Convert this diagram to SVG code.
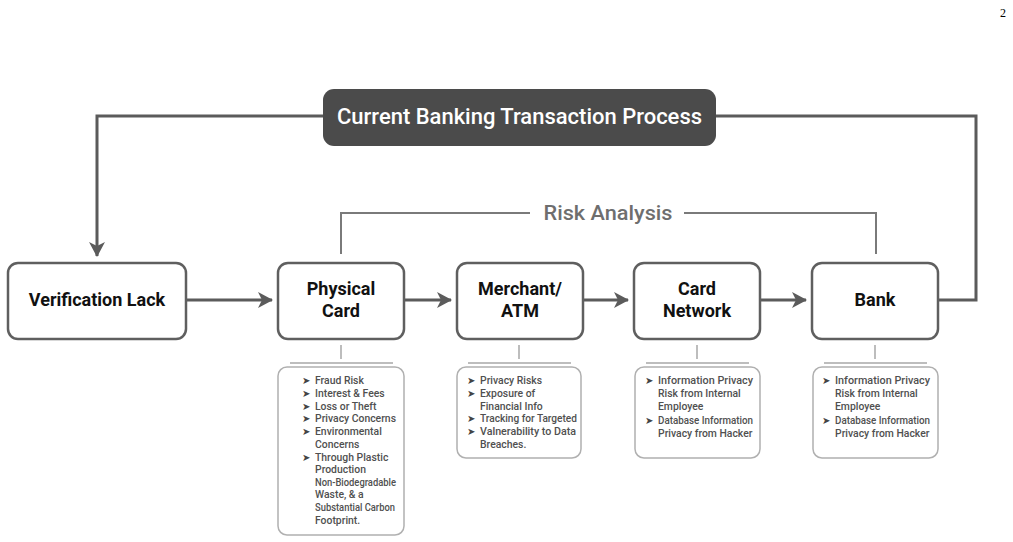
<svg xmlns="http://www.w3.org/2000/svg" width="1013" height="542" viewBox="0 0 1013 542">
<defs>
<marker id="ah2" markerWidth="16" markerHeight="16" refX="14" refY="8" orient="auto" markerUnits="userSpaceOnUse">
<path d="M0,0 L15,8 L0,16 L4,8 Z" fill="#5b5b5b"/>
</marker>
</defs>
<style>
.node{fill:#fff;stroke:#5f5f5f;stroke-width:2.5}
.lbl{font-family:Roboto,"Liberation Sans",sans-serif;font-weight:bold;font-size:18px;fill:#111;text-anchor:middle}
.det{fill:#fff;stroke:#b0b0b0;stroke-width:1.5}
.dt{font-family:Roboto,"Liberation Sans",sans-serif;font-weight:500;font-size:10.4px;fill:#505050}
.bul{font-family:"DejaVu Sans",sans-serif;font-size:10px;fill:#444}
.conn{fill:none;stroke:#5b5b5b;stroke-width:3}
.risk{fill:none;stroke:#7a7a7a;stroke-width:2}
.tick{fill:none;stroke:#a8a8a8;stroke-width:1.5}
</style>
<rect width="1013" height="542" fill="#fff"/>
<text x="1003" y="17" font-family="Liberation Serif,serif" font-size="12" fill="#000" text-anchor="middle">2</text>

<g id="connectors">
<path class="conn" d="M323,116 H97 V256" marker-end="url(#ah2)"/>
<path class="conn" d="M716,116 H976 V300 H938"/>
<path class="conn" d="M186,300 H272" marker-end="url(#ah2)"/>
<path class="conn" d="M404,300 H451" marker-end="url(#ah2)"/>
<path class="conn" d="M583,300 H628" marker-end="url(#ah2)"/>
<path class="conn" d="M760,300 H806" marker-end="url(#ah2)"/>
<path class="risk" d="M341,254 V213 H530 M684,213 H876 V254"/>
<path class="tick" d="M341,345 V359 M290,363 H393"/>
<path class="tick" d="M519,345 V359 M468,363 H571"/>
<path class="tick" d="M697,345 V359 M646,363 H749"/>
<path class="tick" d="M875,345 V359 M824,363 H927"/>
</g>

<g id="title">
<rect x="323" y="89" width="393" height="57" rx="11" fill="#4b4b4b"/>
<text x="519.5" y="124" font-family="Roboto,'Liberation Sans',sans-serif" font-weight="500" font-size="22" fill="#fff" text-anchor="middle" textLength="365" lengthAdjust="spacingAndGlyphs">Current Banking Transaction Process</text>
</g>

<g id="risk-label">
<text x="608" y="220" font-family="Roboto,'Liberation Sans',sans-serif" font-weight="500" font-size="21" fill="#6e6e6e" text-anchor="middle" textLength="129" lengthAdjust="spacingAndGlyphs">Risk Analysis</text>
</g>

<g id="verification">
<rect class="node" x="8" y="263" width="178" height="76" rx="10"/>
<text class="lbl" x="97" y="306">Verification Lack</text>
</g>
<g id="physical-card">
<rect class="node" x="278" y="263" width="126" height="76" rx="10"/>
<text class="lbl" x="341" y="295">Physical</text>
<text class="lbl" x="341" y="317">Card</text>
</g>
<g id="merchant">
<rect class="node" x="457" y="263" width="126" height="76" rx="10"/>
<text class="lbl" x="520" y="295">Merchant/</text>
<text class="lbl" x="520" y="317">ATM</text>
</g>
<g id="card-network">
<rect class="node" x="634" y="263" width="126" height="76" rx="10"/>
<text class="lbl" x="697" y="295">Card</text>
<text class="lbl" x="697" y="317">Network</text>
</g>
<g id="bank">
<rect class="node" x="812" y="263" width="126" height="76" rx="10"/>
<text class="lbl" x="875" y="306">Bank</text>
</g>

<g id="physical-risks">
<rect class="det" x="278" y="367" width="126" height="168" rx="9"/>
<g class="bul"><text x="302" y="384">➤</text><text x="302" y="397">➤</text><text x="302" y="410">➤</text><text x="302" y="422">➤</text><text x="302" y="435">➤</text><text x="302" y="461">➤</text></g>
<g class="dt">
<text x="315" y="384">Fraud Risk</text>
<text x="315" y="397">Interest &amp; Fees</text>
<text x="315" y="410">Loss or Theft</text>
<text x="315" y="422">Privacy Concerns</text>
<text x="315" y="435">Environmental</text>
<text x="315" y="448">Concerns</text>
<text x="315" y="461">Through Plastic</text>
<text x="315" y="473">Production</text>
<text x="315" y="486" textLength="81" lengthAdjust="spacingAndGlyphs">Non-Biodegradable</text>
<text x="315" y="498">Waste, &amp; a</text>
<text x="315" y="511" textLength="80" lengthAdjust="spacingAndGlyphs">Substantial Carbon</text>
<text x="315" y="524">Footprint.</text>
</g>
</g>

<g id="merchant-risks">
<rect class="det" x="457" y="367" width="124" height="91" rx="9"/>
<g class="bul"><text x="467" y="384">➤</text><text x="467" y="397">➤</text><text x="467" y="422">➤</text><text x="467" y="435">➤</text></g>
<g class="dt">
<text x="480" y="384">Privacy Risks</text>
<text x="480" y="397">Exposure of</text>
<text x="480" y="410">Financial Info</text>
<text x="480" y="422" textLength="97" lengthAdjust="spacingAndGlyphs">Tracking for Targeted</text>
<text x="480" y="435" textLength="96" lengthAdjust="spacingAndGlyphs">Valnerability to Data</text>
<text x="480" y="448">Breaches.</text>
</g>
</g>

<g id="network-risks">
<rect class="det" x="635" y="367" width="125" height="91" rx="9"/>
<g class="bul"><text x="645" y="384">➤</text><text x="645" y="424">➤</text></g>
<g class="dt">
<text x="658" y="384" textLength="95" lengthAdjust="spacingAndGlyphs">Information Privacy</text>
<text x="658" y="397">Risk from Internal</text>
<text x="658" y="410">Employee</text>
<text x="658" y="424" textLength="95" lengthAdjust="spacingAndGlyphs">Database Information</text>
<text x="658" y="437">Privacy from Hacker</text>
</g>
</g>

<g id="bank-risks">
<rect class="det" x="813" y="367" width="125" height="91" rx="9"/>
<g class="bul"><text x="822" y="384">➤</text><text x="822" y="424">➤</text></g>
<g class="dt">
<text x="835" y="384" textLength="95" lengthAdjust="spacingAndGlyphs">Information Privacy</text>
<text x="835" y="397">Risk from Internal</text>
<text x="835" y="410">Employee</text>
<text x="835" y="424" textLength="95" lengthAdjust="spacingAndGlyphs">Database Information</text>
<text x="835" y="437">Privacy from Hacker</text>
</g>
</g>
</svg>
